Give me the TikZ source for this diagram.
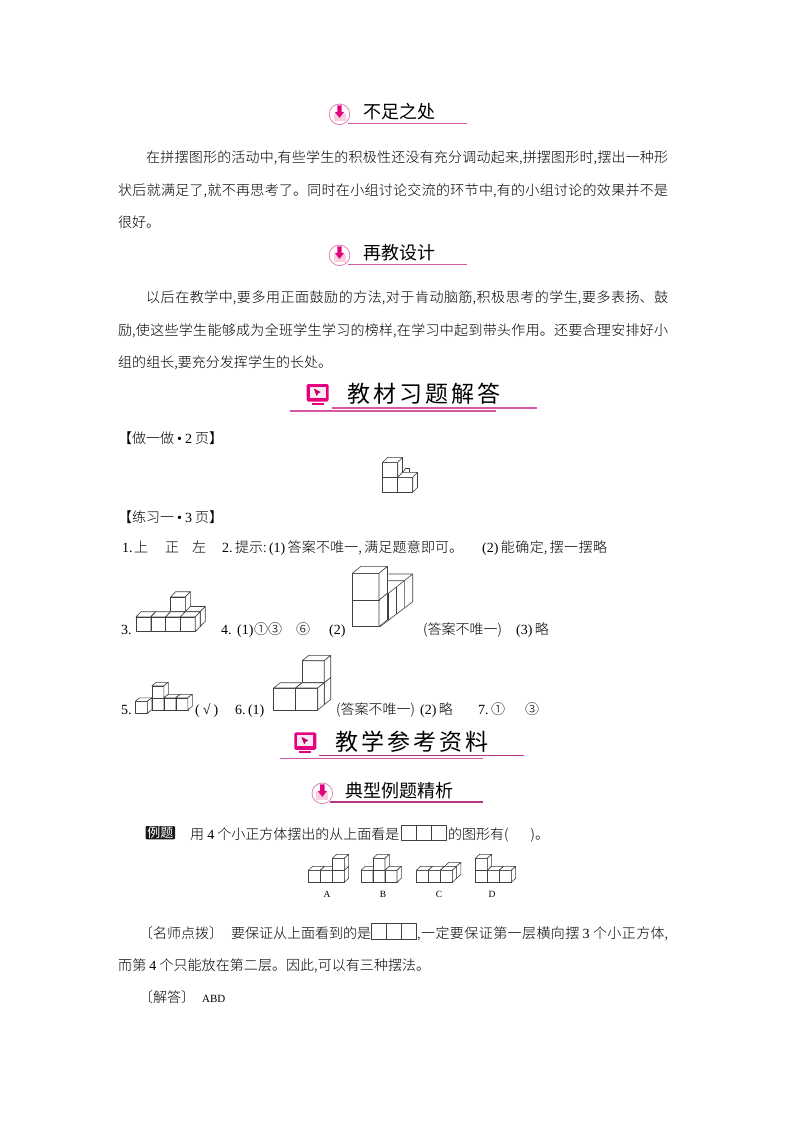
\documentclass[tikz,border=0pt]{standalone}
\usepackage{fontspec}
\setmainfont{Noto Sans CJK SC Light}
\newfontfamily\numf{Liberation Serif}
\newfontfamily\headfont[LetterSpace=13]{Noto Sans CJK SC}
\newfontfamily\subfont{Noto Sans CJK SC}
\XeTeXlinebreaklocale "zh"
\XeTeXlinebreakskip=0pt plus 3pt
\definecolor{headpink}{HTML}{E4007F}
\definecolor{linepink}{HTML}{D655A5}
\definecolor{linedark}{HTML}{B8338A}
\definecolor{padpink}{HTML}{F9CFE0}
\definecolor{ringpink}{HTML}{E183B6}
\tikzset{
    txt/.style={anchor=base west, inner sep=0pt, font=\fontsize{14}{16}\selectfont, text=black},
    subhead/.style={anchor=base west, inner sep=0pt, font=\subfont\fontsize{18}{20}\selectfont},
    bighead/.style={anchor=base west, inner sep=0pt, font=\headfont\fontsize{23}{25}\selectfont, text=black},
    tag/.style={anchor=base, inner sep=0pt, font=\numf\fontsize{9.5}{10}\selectfont},
    cubeline/.style={draw=black!75, fill=white, line width=0.6pt, line join=round},
    headrule/.style={draw=linepink, line width=1.2pt},
}
\newcommand\fitline[2]{\parbox[t]{#1}{\parfillskip=0pt\noindent #2}}
% x y size dx dy
\newcommand\cubebox[5]{
    \draw[cubeline] (#1,#2) rectangle ++(#3,-#3);
    \draw[cubeline] (#1,#2-#3) -- ++(#4,-#5) -- ++(#3,0) -- ++(-#4,#5) -- cycle;
    \draw[cubeline] (#1+#3,#2) -- ++(#4,-#5) -- ++(0,-#3) -- ++(-#4,#5) -- cycle;
}
% list is column/depth/level, back cubes first, then left to right
\newcommand\cubegroup[6]{
    \foreach \c/\d/\l in {#6}{
        \cubebox{#1+\c*#3+\d*#4}{#2-\d*#5-\l*#3}{#3}{#4}{#5}
    }
}
\newcommand\downicon[2]{
    \draw[ringpink, fill=white, line width=0.8pt] (#1,#2) circle (10.3);
    \fill[padpink] (#1-6,#2-1) rectangle (#1+6,#2+6.5);
    \fill[headpink] (#1-2.2,#2-9) -- (#1+2.2,#2-9) -- (#1+2.2,#2-2.5) -- (#1+4.8,#2-2.5)
        -- (#1,#2+3.5) -- (#1-4.8,#2-2.5) -- (#1-2.2,#2-2.5) -- cycle;
}
\newcommand\screenicon[2]{
    \fill[headpink, rounded corners=1.5pt] (#1,#2) rectangle (#1+22,#2+17.5);
    \fill[padpink!45] (#1+3,#2+3) rectangle (#1+19,#2+14);
    \fill[headpink!80!black] (#1+7,#2+4.5) -- (#1+14,#2+8) -- (#1+11.5,#2+9.5) -- (#1+10,#2+12) -- cycle;
    \fill[headpink] (#1+5,#2+18.5) rectangle (#1+17,#2+21);
}
\begin{document}
\begin{tikzpicture}[x=1pt, y=-1pt]
    \useasboundingbox (0,0) rectangle (800,1132);

    % first heading
    \draw[headrule] (348,123.4) -- (467,123.4);
    \downicon{339.5}{114.3}
    \node[subhead] (headshort) at (363,118) {不足之处};
    \node[txt] (shortone) at (146,162) {\fitline{522pt}{在拼摆图形的活动中,有些学生的积极性还没有充分调动起来,拼摆图形时,摆出一种形}};
    \node[txt] (shorttwo) at (118,195) {\fitline{550pt}{状后就满足了,就不再思考了。同时在小组讨论交流的环节中,有的小组讨论的效果并不是}};
    \node[txt] (shortthree) at (118,227) {很好。};

    % second heading
    \draw[headrule] (348,264.4) -- (467,264.4);
    \downicon{339.5}{255.3}
    \node[subhead] (headagain) at (363,259) {再教设计};
    \node[txt] (againone) at (146,302) {\fitline{522pt}{以后在教学中,要多用正面鼓励的方法,对于肯动脑筋,积极思考的学生,要多表扬、鼓}};
    \node[txt] (againtwo) at (118,335) {\fitline{550pt}{励,使这些学生能够成为全班学生学习的榜样,在学习中起到带头作用。还要合理安排好小}};
    \node[txt] (againthree) at (118,367) {\fitline{214pt}{组的组长,要充分发挥学生的长处。}};

    % textbook answers
    \screenicon{306.7}{384}
    \draw[headrule] (331.7,408) -- (536.7,408);
    \draw[headrule] (290,411) -- (496,411);
    \node[bighead] (headbook) at (347,402) {教材习题解答};

    \node[txt] (doone) at (118,443) {【做一做\hspace{3pt}{\numf\textbullet\hspace{3pt}2}\hspace{3pt}页】};
    \draw[cubeline, fill=none] (403,472) -- (405.5,468.5) -- (409.5,468.5) -- (409.5,472);
    \cubegroup{382.7}{492.3}{15}{4.8}{4.9}{0/0/0,0/0/1,1/0/0}

    \node[txt] (practice) at (118,522) {【练习一\hspace{3pt}{\numf\textbullet\hspace{3pt}3}\hspace{3pt}页】};
    \node[txt] (answerone) at (122,552) {\numf 1.};
    \node[txt] (answerup) at (134,552) {上};
    \node[txt] (answerfront) at (165,552) {正};
    \node[txt] (answerleft) at (192,552) {左};
    \node[txt] (answertwo) at (222,552) {\fitline{241pt}{{\numf 2.}\,提示:\,{\numf (1)}\,答案不唯一,\,满足题意即可。}};
    \node[txt] (answerfix) at (482,552) {\fitline{125pt}{{\numf (2)}\,能确定,\,摆一摆略}};

    \node[txt] (answerthree) at (121,634) {\numf 3.};
    \cubegroup{136}{631.7}{14.8}{5}{5.2}{2/1/0,2/1/1,3/1/0,0/0/0,1/0/0,2/0/0,3/0/0}
    \node[txt] (answerfour) at (221,634) {{\numf 4.}};
    \node[txt] (answerfourone) at (237,634) {{\numf (1)}};
    \node[txt] (answerfourpick) at (254,634) {①③};
    \node[txt] (answerfoursix) at (296,634) {⑥};
    \node[txt] (answerfourtwo) at (329,634) {{\numf (2)}};

    % low row behind the stack
    \draw[cubeline, fill=none] (380,626.7) -- (412.7,601.7) -- (412.7,574) -- (388.3,574);
    \draw[cubeline, fill=none] (388.3,580.7) -- (404.3,580.7) -- (412.7,574);
    \draw[cubeline, fill=none] (380,600) -- (404.3,580.7) -- (404.3,607.3);
    \draw[cubeline, fill=none] (388.3,593.3) -- (388.3,620);
    \draw[cubeline, fill=none] (396,586.7) -- (396,614);
    \cubegroup{352.3}{626.7}{26.7}{8.5}{6.9}{0/0/0,0/0/1}
    \node[txt] (answernote) at (423,634) {(答案不唯一)};
    \node[txt] (answerthreeq) at (516,634) {{\numf (3)}\,略};

    \node[txt] (answerfive) at (121,714) {\numf 5.};
    \cubegroup{135.3}{713.3}{12}{4.5}{3.5}{1/1/0,1/1/1,2/1/0,3/1/0,0/0/0}
    \node[txt] (answercheck) at (195,714) {\numf (\hspace{3pt}√\hspace{3pt})};
    \node[txt] (answersix) at (235,714) {{\numf 6.\,(1)}};
    \cubegroup{273.7}{710}{22}{6.5}{5.3}{1/1/0,1/1/1,0/0/0,1/0/0}
    \node[txt] (answernotetwo) at (336,714) {(答案不唯一)};
    \node[txt] (answernotetwoq) at (420,714) {{\numf (2)}\,略};
    \node[txt] (answerseven) at (478,714) {{\numf 7.}\,①};
    \node[txt] (answersevenb) at (525,714) {③};

    % teaching material
    \screenicon{294.3}{732.3}
    \draw[headrule, draw=linedark] (319.3,755.3) -- (524.3,755.3);
    \draw[headrule] (280,758.7) -- (483.3,758.7);
    \node[bighead] (headmaterial) at (335,750) {教学参考资料};

    \draw[headrule, draw=linedark] (330,802) -- (483.3,802);
    \downicon{322.3}{793.3}
    \node[subhead] (headsample) at (345,797) {典型例题精析};

    \fill[black!90, rounded corners=1pt] (145.7,826) rectangle (175,839.3);
    \node[anchor=base, inner sep=0pt, text=white, font=\subfont\fontsize{13}{14}\selectfont] (sampletag) at (160.3,837.5) {例题};
    \node[txt] (sampleask) at (190,839) {用 {\numf 4} 个小正方体摆出的从上面看是};
    \draw[cubeline] (401,825) rectangle (446,840);
    \draw[cubeline] (416,825) -- (416,840);
    \draw[cubeline] (431,825) -- (431,840);
    \node[txt] (sampleend) at (448,839) {的图形有({\hspace{22pt}})。};

    \cubegroup{308.3}{882.3}{12}{4.3}{4}{0/0/0,1/0/0,2/0/0,2/0/1}
    \node[tag] (taga) at (327,897) {A};
    \cubegroup{361}{882.3}{12}{4.3}{4}{0/0/0,1/0/0,1/0/1,2/0/0}
    \node[tag] (tagb) at (383,897) {B};
    \cubegroup{416.3}{882.3}{12}{4.3}{4}{2/1/0,0/0/0,1/0/0,2/0/0}
    \node[tag] (tagc) at (439,897) {C};
    \cubegroup{475.3}{882.3}{12}{4.3}{4}{0/0/0,0/0/1,1/0/0,2/0/0}
    \node[tag] (tagd) at (492,897) {D};

    \node[txt] (tipmark) at (139,938) {〔名师点拨〕};
    \node[txt] (tipone) at (231,938) {要保证从上面看到的是};
    \draw[cubeline] (371.7,923) rectangle (416.4,939);
    \draw[cubeline] (386.6,923) -- (386.6,939);
    \draw[cubeline] (401.5,923) -- (401.5,939);
    \node[txt] (tiptwo) at (417,938) {\fitline{251pt}{,一定要保证第一层横向摆 {\numf 3} 个小正方体,}};
    \node[txt] (tipthree) at (118,970) {\fitline{312pt}{而第 {\numf 4} 个只能放在第二层。因此,可以有三种摆法。}};
    \node[txt] (answermark) at (139,1002) {〔解答〕};
    \node[txt] (answerabd) at (202,1002) {\numf\fontsize{11}{12}\selectfont ABD};
\end{tikzpicture}
\end{document}
